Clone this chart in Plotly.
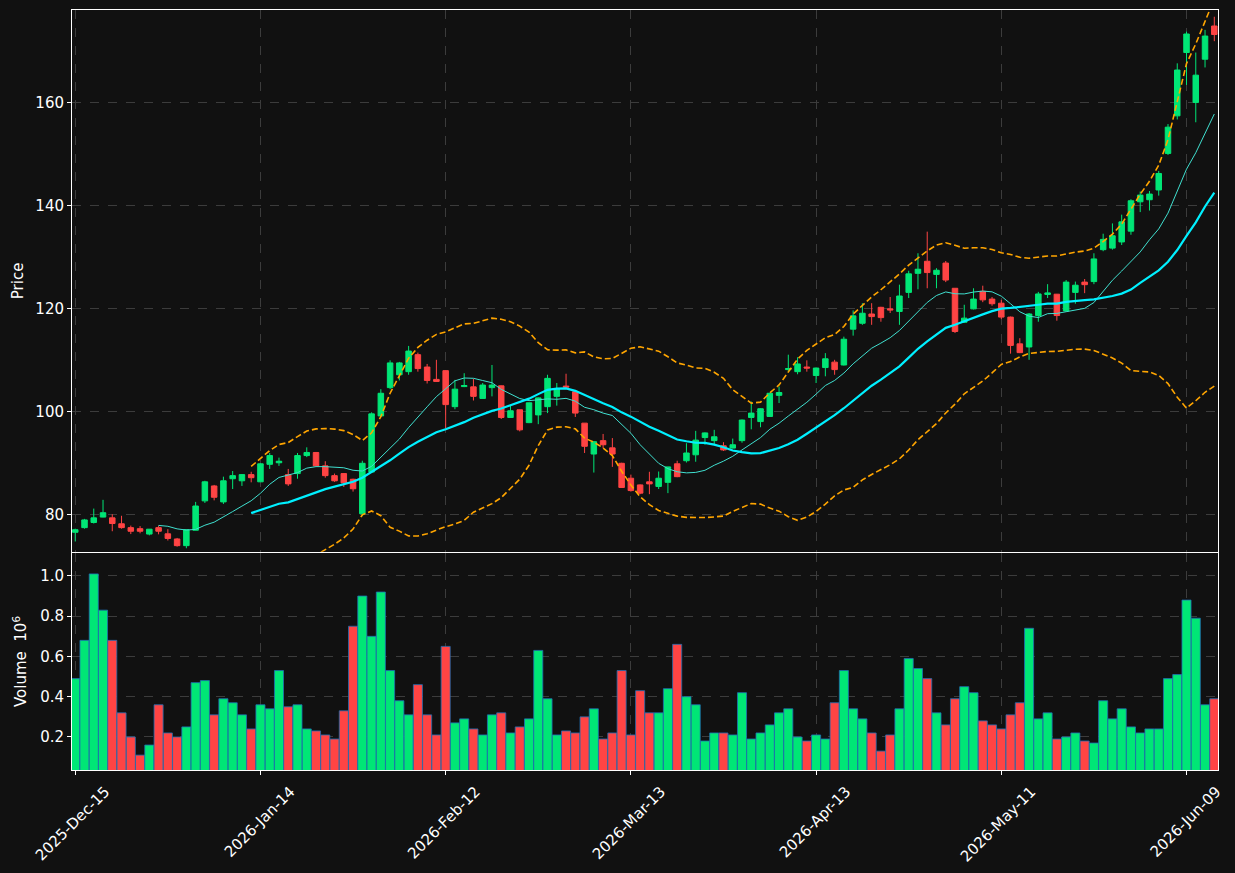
import plotly.graph_objects as go
from plotly.subplots import make_subplots
import pandas as pd

opens = [76.6, 77.5, 78.5, 79.55, 79.4, 78.25, 77.5, 77.3, 76.25, 77.5,
         76.3, 75.3, 74.0, 77.0, 82.7, 85.6, 82.5, 87.0, 86.6, 87.8,
         86.4, 89.8, 90.1, 87.8, 88.0, 91.5, 92.1, 89.5, 87.6, 88.0,
         86.9, 80.2, 88.3, 99.2, 104.7, 107.2, 107.8, 111.1, 108.7, 106.3,
         108.0, 101.0, 104.9, 104.85, 102.6, 104.7, 105.05, 98.9, 100.4, 97.9,
         99.4, 101.0, 103.0, 105.0, 103.9, 97.8, 91.8, 94.4, 93.0, 90.0,
         87.1, 85.8, 86.4, 85.5, 86.3, 89.9, 90.5, 91.65, 95.0, 94.4,
         93.4, 92.95, 94.4, 98.9, 98.1, 99.1, 103.2, 108.2, 107.8, 108.7,
         107.05, 108.6, 109.65, 109.1, 116.06, 117.2, 119.0, 120.3, 120.0, 119.5,
         123.2, 126.9, 129.25, 126.7, 128.9, 124.0, 117.4, 120.0, 123.4, 121.9,
         121.1, 118.4, 113.2, 112.6, 118.7, 122.8, 122.85, 119.6, 123.2, 125.2,
         125.3, 131.5, 131.8, 133.0, 135.1, 140.8, 141.2, 143.1, 150.2, 157.5,
         169.8, 160.1, 168.5, 174.95]
highs = [77.3, 79.2, 81.2, 82.9, 80.1, 79.8, 77.9, 77.8, 77.2, 77.9,
         77.2, 75.5, 77.1, 82.5, 86.6, 85.8, 87.4, 88.5, 87.9, 88.35,
         90.0, 92.0, 91.1, 88.9, 92.0, 93.1, 92.2, 90.4, 88.0, 88.1,
         87.0, 90.5, 99.9, 104.4, 110.0, 109.7, 112.8, 111.5, 109.3, 110.1,
         108.0, 106.2, 107.5, 106.4, 105.6, 109.1, 105.1, 101.2, 100.4, 101.8,
         102.8, 107.2, 105.6, 107.4, 104.0, 97.8, 94.3, 95.7, 94.9, 90.1,
         87.8, 85.9, 88.35, 88.4, 89.3, 90.5, 93.9, 96.3, 96.0, 96.5,
         94.1, 94.8, 98.5, 102.0, 100.7, 103.7, 104.9, 111.1, 110.6, 110.0,
         108.6, 111.4, 110.1, 114.6, 119.7, 121.1, 121.1, 120.4, 122.3, 124.7,
         127.4, 130.8, 135.0, 127.9, 129.3, 124.0, 120.8, 124.0, 124.5, 122.3,
         121.75, 118.5, 114.3, 119.2, 123.3, 124.8, 122.9, 125.6, 125.3, 125.8,
         130.8, 134.6, 136.6, 138.3, 141.3, 142.8, 142.9, 146.8, 155.9, 167.7,
         173.85, 169.8, 174.2, 176.75]
lows = [74.8, 77.3, 78.3, 79.5, 76.8, 77.3, 76.25, 76.4, 76.0, 76.2,
        75.0, 73.8, 73.5, 77.0, 82.3, 82.8, 82.1, 85.0, 85.6, 86.3,
        86.4, 88.9, 89.5, 85.6, 87.0, 91.2, 89.5, 87.2, 86.4, 85.4,
        84.5, 79.7, 88.2, 99.0, 104.4, 106.1, 107.2, 107.8, 105.5, 105.8,
        96.8, 100.5, 104.8, 102.2, 102.6, 103.0, 98.6, 98.9, 96.2, 97.8,
        97.6, 99.75, 101.2, 104.7, 99.0, 92.0, 88.2, 92.95, 89.3, 85.2,
        84.5, 84.0, 84.0, 85.0, 84.2, 87.3, 90.15, 90.3, 93.6, 93.6,
        92.4, 92.9, 94.0, 96.6, 97.0, 99.0, 101.7, 107.8, 107.3, 107.8,
        105.6, 106.9, 107.2, 109.0, 114.8, 116.9, 116.9, 117.5, 119.2, 116.9,
        122.1, 123.8, 124.0, 124.0, 125.2, 115.3, 117.3, 119.9, 121.3, 120.6,
        118.0, 111.3, 111.4, 110.1, 117.5, 122.1, 117.7, 119.5, 121.0, 123.05,
        124.8, 131.2, 131.5, 132.4, 134.4, 138.8, 139.1, 142.0, 149.9, 156.8,
        163.5, 156.25, 166.9, 172.0]
closes = [77.1, 79.0, 79.4, 80.4, 78.3, 77.5, 76.8, 76.8, 77.2, 76.8,
          75.4, 74.0, 77.1, 81.7, 86.4, 83.4, 86.6, 87.6, 87.8, 87.2,
          89.9, 91.5, 90.4, 86.0, 91.5, 92.1, 89.5, 87.6, 86.6, 86.2,
          85.05, 90.0, 99.6, 103.6, 109.5, 109.5, 111.8, 108.4, 106.1, 105.9,
          101.4, 104.4, 105.1, 103.0, 105.2, 105.2, 98.9, 100.2, 96.5, 101.75,
          102.7, 106.5, 104.4, 104.8, 99.75, 93.3, 94.2, 93.6, 91.8, 85.3,
          84.7, 84.2, 86.0, 87.1, 89.3, 87.4, 92.0, 94.5, 95.9, 95.15,
          92.6, 93.6, 98.4, 99.75, 100.6, 103.6, 103.75, 108.4, 109.3, 108.5,
          108.5, 110.3, 108.2, 114.1, 118.64, 119.15, 118.5, 118.3, 119.8, 122.5,
          126.8, 127.7, 127.05, 127.5, 125.6, 115.6, 118.2, 121.9, 121.75, 121.0,
          118.4, 112.9, 111.5, 119.0, 122.9, 123.1, 118.7, 125.2, 124.6, 124.7,
          129.7, 133.5, 134.2, 136.9, 141.0, 142.1, 142.3, 146.3, 155.3, 166.4,
          173.4, 165.4, 173.0, 173.3]
volumes = [0.49, 0.68, 1.01, 0.83, 0.68, 0.32, 0.20, 0.11, 0.16, 0.36,
           0.22, 0.20, 0.25, 0.47, 0.48, 0.31, 0.39, 0.37, 0.31, 0.24,
           0.36, 0.34, 0.53, 0.35, 0.36, 0.24, 0.23, 0.21, 0.19, 0.33,
           0.75, 0.90, 0.70, 0.92, 0.53, 0.38, 0.31, 0.46, 0.31, 0.21,
           0.65, 0.27, 0.29, 0.24, 0.21, 0.31, 0.32, 0.22, 0.25, 0.29,
           0.63, 0.39, 0.21, 0.23, 0.22, 0.30, 0.34, 0.19, 0.22, 0.53,
           0.21, 0.43, 0.32, 0.32, 0.44, 0.66, 0.40, 0.36, 0.18, 0.22,
           0.22, 0.21, 0.42, 0.19, 0.22, 0.26, 0.32, 0.34, 0.20, 0.18,
           0.21, 0.19, 0.37, 0.53, 0.34, 0.29, 0.22, 0.13, 0.21, 0.34,
           0.59, 0.54, 0.49, 0.32, 0.26, 0.39, 0.45, 0.42, 0.28, 0.26,
           0.24, 0.31, 0.37, 0.74, 0.29, 0.32, 0.19, 0.20, 0.22, 0.18,
           0.17, 0.38, 0.29, 0.34, 0.25, 0.22, 0.24, 0.24, 0.49, 0.51,
           0.88, 0.79, 0.36, 0.39]
tick_positions = [0, 20, 40, 60, 80, 100, 120]
tick_labels = ["2025-Dec-15", "2026-Jan-14", "2026-Feb-12", "2026-Mar-13",
               "2026-Apr-13", "2026-May-11", "2026-Jun-09"]

UP = "#00e676"
DOWN = "#ff4444"
BG = "#111111"
GRID = "#3c3c3c"

n = len(closes)
x = list(range(n))
s = pd.Series(closes)
ma10 = s.rolling(10).mean()
ma20 = s.rolling(20).mean()
sd20 = s.rolling(20).std()
upper = ma20 + 2 * sd20
lower = ma20 - 2 * sd20

vcolors = [UP if c >= o else DOWN for o, c in zip(opens, closes)]

fig = make_subplots(rows=2, cols=1, shared_xaxes=True, vertical_spacing=0.0015,
                    row_heights=[0.714, 0.286])

fig.add_trace(go.Candlestick(x=x, open=opens, high=highs, low=lows, close=closes,
                             increasing=dict(line=dict(color=UP, width=1), fillcolor=UP),
                             decreasing=dict(line=dict(color=DOWN, width=1), fillcolor=DOWN),
                             showlegend=False, hoverinfo="skip"), row=1, col=1)
fig.add_trace(go.Scatter(x=x, y=ma10, mode="lines", line=dict(color="#40e0d0", width=1),
                         showlegend=False, hoverinfo="skip"), row=1, col=1)
fig.add_trace(go.Scatter(x=x, y=ma20, mode="lines", line=dict(color="#00f0ff", width=2.2),
                         showlegend=False, hoverinfo="skip"), row=1, col=1)
fig.add_trace(go.Scatter(x=x, y=upper, mode="lines",
                         line=dict(color="#ffa500", width=1.6, dash="6px,3px"),
                         showlegend=False, hoverinfo="skip"), row=1, col=1)
fig.add_trace(go.Scatter(x=x, y=lower, mode="lines",
                         line=dict(color="#ffa500", width=1.6, dash="6px,3px"),
                         showlegend=False, hoverinfo="skip"), row=1, col=1)

fig.add_trace(go.Bar(x=x, y=volumes, marker=dict(color=vcolors, line=dict(color="#1f6fb4", width=0.8)),
                     width=0.98, showlegend=False, hoverinfo="skip"), row=2, col=1)

font = dict(family="DejaVu Sans", size=15, color="#ffffff")
axis_common = dict(showline=True, mirror=True, linecolor="#ffffff", linewidth=1,
                   gridcolor=GRID, griddash="dash", gridwidth=1, zeroline=False,
                   ticks="outside", ticklen=4, tickcolor="#ffffff", tickfont=font,
                   automargin=False)

fig.update_xaxes(**axis_common, range=[-0.35, 123.4], tickvals=tick_positions,
                 ticktext=tick_labels, rangeslider_visible=False)
fig.update_xaxes(showticklabels=False, row=1, col=1)
fig.update_xaxes(tickangle=-45, ticklabelshift=30, ticklabelstandoff=2, row=2, col=1)
fig.update_yaxes(**axis_common)
fig.update_yaxes(range=[72.8, 178.06], tickvals=[80, 100, 120, 140, 160],
                 title=dict(text="Price", font=font, standoff=8), row=1, col=1)
fig.update_yaxes(range=[0.036, 1.114], tickvals=[0.2, 0.4, 0.6, 0.8, 1.0], tickformat=".1f",
                 title=dict(text="Volume  10<sup>6</sup>", font=font, standoff=9), row=2, col=1)

fig.update_layout(width=1235, height=873, paper_bgcolor=BG, plot_bgcolor=BG,
                  margin=dict(l=72, r=17, t=10, b=103, autoexpand=False), font=font, bargap=0.02,
                  boxgap=0.15, xaxis_rangeslider_visible=False)

fig.write_html("out.html")
